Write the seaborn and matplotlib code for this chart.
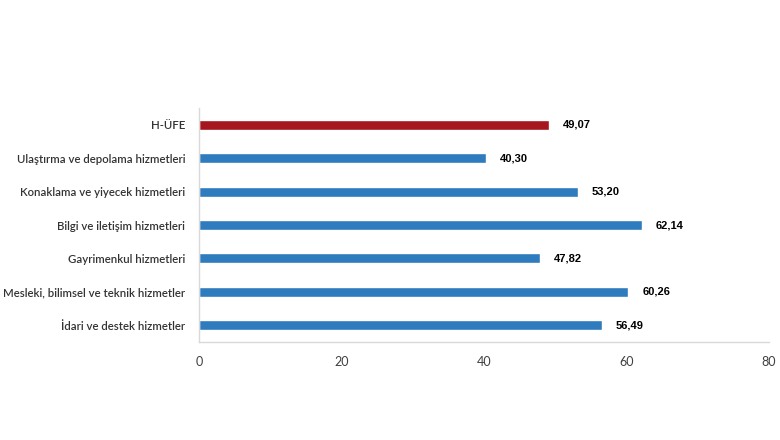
import matplotlib
matplotlib.use("Agg")
import matplotlib.pyplot as plt
import seaborn as sns
import pandas as pd

categories = [
    "H-ÜFE",
    "Ulaştırma ve depolama hizmetleri",
    "Konaklama ve yiyecek hizmetleri",
    "Bilgi ve iletişim hizmetleri",
    "Gayrimenkul hizmetleri",
    "Mesleki, bilimsel ve teknik hizmetler",
    "İdari ve destek hizmetler",
]
values = [49.07, 40.30, 53.20, 62.14, 47.82, 60.26, 56.49]
bar_colors = ["#A5161E", "#2E7BBD", "#2E7BBD", "#2E7BBD", "#2E7BBD", "#2E7BBD", "#2E7BBD"]
x_ticks = [0, 20, 40, 60, 80]

df = pd.DataFrame({"cat": categories, "val": values})

sns.set_theme(style="white")
plt.rcParams["font.family"] = ["Lato", "DejaVu Sans"]

fig = plt.figure(figsize=(7.8, 4.4), dpi=100)
ax = fig.add_axes([0.255, 0.223, 0.731, 0.531])

sns.barplot(data=df, x="val", y="cat", hue="cat", palette=bar_colors,
            legend=False, width=0.3, ax=ax, saturation=1)

ax.set_xlim(0, 80)
ax.set_xticks(x_ticks)
ax.set_xticklabels([str(t) for t in x_ticks])
ax.set_xlabel("")
ax.set_ylabel("")

for i, v in enumerate(values):
    ax.annotate(f"{v:.2f}".replace(".", ","), xy=(v, i), xytext=(10, 0),
                textcoords="offset points", va="center", ha="left",
                fontsize=8, fontweight="bold", color="#000000",
                family=["Liberation Sans", "DejaVu Sans"])

for s in ["top", "right"]:
    ax.spines[s].set_visible(False)
ax.spines["left"].set_color("#D9D9D9")
ax.spines["bottom"].set_color("#D9D9D9")
ax.spines["left"].set_linewidth(1)
ax.spines["bottom"].set_linewidth(1)

ax.tick_params(axis="y", length=0, pad=10, labelsize=8.2, labelcolor="#333333")
for lbl in ax.get_yticklabels():
    lbl.set_fontweight("semibold")
ax.tick_params(axis="x", length=0, pad=10, labelsize=9, labelcolor="#404040")

fig.savefig("out.png", dpi=100)
